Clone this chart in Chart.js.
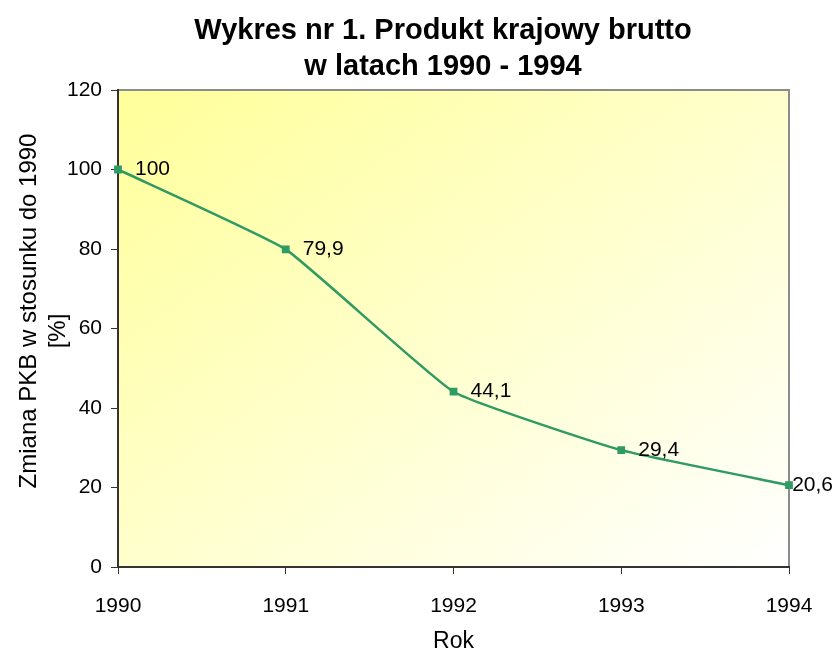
<!DOCTYPE html>
<html>
<head>
<meta charset="utf-8">
<script src="https://cdn.jsdelivr.net/npm/chart.js@4.4.1/dist/chart.umd.min.js"></script>
<style>
  html, body { margin: 0; padding: 0; background: #fff; }
  #wrap { width: 833px; height: 655px; }
</style>
</head>
<body>
<div id="wrap"><canvas id="chart" width="833" height="655"></canvas></div>
<script>
// Data
const years = ['1990', '1991', '1992', '1993', '1994'];
const pkbValues = [100, 79.9, 44.1, 29.4, 20.6];
const pkbLabels = ['100', '79,9', '44,1', '29,4', '20,6'];
const yTicks = [0, 20, 40, 60, 80, 100, 120];

const titleLines = ['Wykres nr 1. Produkt krajowy brutto', 'w latach 1990 - 1994'];
const yTitleLines = ['Zmiana PKB w stosunku do 1990', '[%]'];
const xTitle = 'Rok';

const FONT = 'Arial, "Liberation Sans", sans-serif';
const lineColor = '#2f9a62';

// Yellow-to-white diagonal background of the plot area plus grey frame
const plotBackground = {
    id: 'plotBackground',
    beforeDraw(chart) {
        const { ctx, chartArea: a } = chart;
        ctx.save();
        ctx.translate(a.left, a.top);
        ctx.scale(a.right - a.left, a.bottom - a.top);
        const g = ctx.createLinearGradient(0, 0, 1, 1);
        g.addColorStop(0, '#ffff99');
        g.addColorStop(1, '#ffffff');
        ctx.fillStyle = g;
        ctx.fillRect(0, 0, 1, 1);
        ctx.restore();

        ctx.save();
        ctx.strokeStyle = '#8c8c8c';
        ctx.lineWidth = 2;
        ctx.beginPath();
        ctx.moveTo(a.left, a.top);
        ctx.lineTo(a.right, a.top);
        ctx.lineTo(a.right, a.bottom);
        ctx.stroke();
        ctx.restore();
    }
};

// Titles and value labels
const textPlugin = {
    id: 'textPlugin',
    afterDraw(chart) {
        const { ctx } = chart;
        ctx.save();
        ctx.fillStyle = '#000';
        ctx.textAlign = 'center';
        ctx.textBaseline = 'alphabetic';
        ctx.font = 'bold 29px ' + FONT;
        ctx.fillText(titleLines[0], 443, 39);
        ctx.fillText(titleLines[1], 443, 75);

        // rotated y-axis title
        ctx.font = '24px ' + FONT;
        ctx.textBaseline = 'middle';
        ctx.save();
        ctx.translate(29, 311);
        ctx.rotate(-Math.PI / 2);
        ctx.fillText(yTitleLines[0], 0, 0);
        ctx.restore();
        ctx.save();
        ctx.translate(58, 331);
        ctx.rotate(-Math.PI / 2);
        ctx.fillText(yTitleLines[1], 0, 0);
        ctx.restore();

        ctx.font = '21px ' + FONT;
        ctx.textAlign = 'left';
        const meta = chart.getDatasetMeta(0);
        meta.data.forEach((pt, i) => {
            const txt = pkbLabels[i];
            const w = ctx.measureText(txt).width;
            let x = pt.x + 17;
            if (x + w > chart.width) x = chart.width - w;
            ctx.fillText(txt, x, pt.y);
        });
        ctx.restore();
    }
};

const config = {
    type: 'line',
    data: {
        labels: years,
        datasets: [{
            label: 'PKB',
            data: pkbValues,
            borderColor: lineColor,
            backgroundColor: lineColor,
            borderWidth: 2.5,
            pointStyle: 'rect',
            pointRadius: 5.5,
            pointBorderWidth: 0,
            tension: 0.12,
            fill: false
        }]
    },
    options: {
        responsive: false,
        animation: false,
        layout: { padding: { top: 90, right: 44, left: 0, bottom: 0 } },
        plugins: {
            legend: { display: false },
            title: { display: false },
            tooltip: { enabled: false }
        },
        scales: {
            x: {
                type: 'category',
                offset: false,
                grid: {
                    drawOnChartArea: false,
                    drawTicks: true,
                    tickLength: 7,
                    tickColor: '#333',
                    color: '#333'
                },
                border: { color: '#333', width: 2 },
                ticks: {
                    color: '#000',
                    font: { family: FONT, size: 21 },
                    padding: 20,
                    maxRotation: 0
                },
                title: {
                    display: true,
                    text: xTitle,
                    color: '#000',
                    font: { family: FONT, size: 23 },
                    padding: { top: 0, bottom: 0 }
                },
                afterFit(scale) { scale.height = 88; }
            },
            y: {
                min: 0,
                max: 120,
                afterBuildTicks(scale) { scale.ticks = yTicks.map(v => ({ value: v })); },
                grid: {
                    drawOnChartArea: false,
                    drawTicks: true,
                    tickLength: 7,
                    tickColor: '#333'
                },
                border: { color: '#333', width: 2 },
                ticks: {
                    color: '#000',
                    font: { family: FONT, size: 21 },
                    padding: 9
                },
                title: { display: false },
                afterFit(scale) { scale.width = 118; }
            }
        }
    },
    plugins: [plotBackground, textPlugin]
};

new Chart(document.getElementById('chart'), config);
</script>
</body>
</html>
